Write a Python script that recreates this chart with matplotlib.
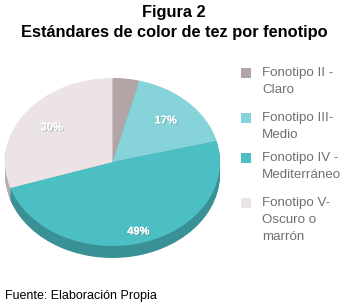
import numpy as np
import matplotlib
matplotlib.use("Agg")
import matplotlib.pyplot as plt
import matplotlib.patheffects as pe
from matplotlib.patches import Rectangle

# data
labels = ["Fonotipo II -\nClaro", "Fonotipo III-\nMedio",
          "Fonotipo IV -\nMediterráneo", "Fonotipo V-\nOscuro o\nmarrón"]
values = [4, 17, 49, 30]
shown = [False, True, True, True]
colors = ["#b3a4a6", "#86d3da", "#4cbfc4", "#ebe3e6"]

plt.rcParams['font.family'] = ['Liberation Sans', 'DejaVu Sans']

W, H = 348, 305
fig = plt.figure(figsize=(W / 100, H / 100), dpi=100)

fig.text(0.5, 1 - 12 / H, "Figura 2", ha="center", va="center",
         fontsize=11.8, fontweight="bold")
fig.text(0.5, 1 - 33 / H, "Estándares de color de tez por fenotipo",
         ha="center", va="center", fontsize=11.8, fontweight="bold")
fig.text(5 / W, 1 - 296 / H, "Fuente: Elaboración Propia", ha="left",
         va="center", fontsize=9)

# pie area in pixels: top face x 5..220, y 78..246, side depth 12
px_l, px_r, px_t, px_b = 5, 220, 78, 258
depth_px = 12
face_h = (px_b - px_t) - depth_px
d = depth_px / (face_h / 2)

ax = fig.add_axes([px_l / W, 1 - px_b / H, (px_r - px_l) / W,
                   (px_b - px_t) / H])


def darker(c, f=0.76):
    r, g, b = matplotlib.colors.to_rgb(c)
    return (r * f, g * f, b * f)


side_colors = [darker(c) for c in colors]
for off in np.linspace(d, 0, 14)[:-1]:
    ax.pie(values, colors=side_colors, startangle=90, counterclock=False,
           center=(0, -off), wedgeprops=dict(linewidth=0))

wedges, _ = ax.pie(values, colors=colors, startangle=90, counterclock=False,
                   wedgeprops=dict(linewidth=0))

label_r = [0.7, 0.7, 0.86, 0.7]
shadow = [pe.withSimplePatchShadow(offset=(0.8, -0.8), shadow_rgbFace="#7a8a8a",
                                   alpha=0.5), pe.Normal()]
for w, v, s, r in zip(wedges, values, shown, label_r):
    if not s:
        continue
    ang = np.deg2rad((w.theta1 + w.theta2) / 2)
    ax.text(r * np.cos(ang), r * np.sin(ang), f"{v}%", ha="center",
            va="center", fontsize=8, fontweight="bold", color="white",
            path_effects=shadow)

ax.set_aspect("auto")
ax.set_xlim(-1, 1)
ax.set_ylim(-1 - d, 1)
ax.axis("off")

# legend drawn by hand
entry_top = [73, 118, 158, 203]
for lab, c, yt in zip(labels, colors, entry_top):
    fig.patches.append(Rectangle((241 / W, 1 - (yt + 5) / H), 10 / W, 10 / H,
                                 transform=fig.transFigure, facecolor=c,
                                 edgecolor="none"))
    fig.text(262 / W, 1 - (yt - 6) / H, lab, ha="left", va="top",
             fontsize=9.6, color="#707070", linespacing=1.55)

fig.savefig("out.png", dpi=100)
